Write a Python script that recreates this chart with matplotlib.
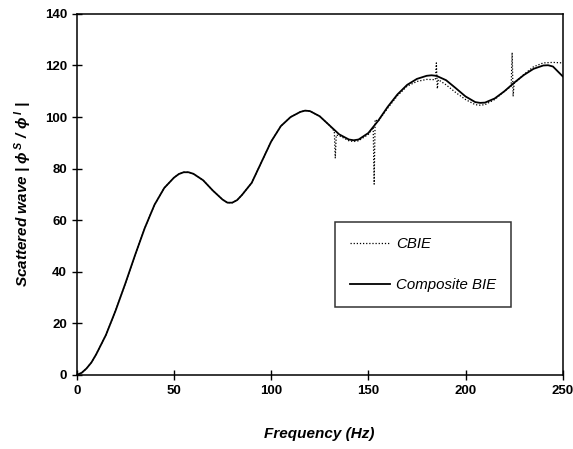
import matplotlib
matplotlib.use("Agg")
import matplotlib.pyplot as plt

plt.rcParams["font.family"] = ["Liberation Sans", "DejaVu Sans"]
plt.rcParams["mathtext.fontset"] = "custom"
plt.rcParams["mathtext.it"] = "Liberation Sans:italic:bold"
plt.rcParams["mathtext.rm"] = "Liberation Sans:bold"

# Composite BIE (smooth)
freq = [0, 2.5, 5, 7.5, 10, 15, 20, 25, 30, 35, 40, 45, 50, 52.5, 55, 57.5,
        60, 65, 70, 75, 77.5, 80, 82.5, 85, 90, 95, 100, 105, 110, 115, 117.5,
        120, 125, 130, 135, 140, 142.5, 145, 150, 155, 160, 165, 170, 175,
        180, 182.5, 185, 190, 195, 200, 205, 207.5, 210, 215, 220, 225, 230,
        235, 240, 242.5, 245, 250]
composite = [0, 0.8, 2.5, 4.8, 8, 15.5, 25, 35.5, 46.5, 57, 66, 72.5, 76.5,
             77.9, 78.6, 78.6, 78, 75.5, 71.5, 68, 66.8, 66.8, 67.8, 69.8,
             74.5, 82.5, 90.5, 96.5, 100, 102, 102.5, 102.3, 100.3, 96.8, 93.3,
             91.3, 91, 91.3, 93.8, 98.5, 104, 108.8, 112.5, 114.8, 116, 116.2,
             116, 114.3, 111.2, 108, 105.8, 105.5, 105.6, 107.2, 110, 113.3,
             116.3, 118.7, 120, 120.1, 119.6, 115.8]

# CBIE (with spurious spikes near irregular frequencies)
freq_cbie = [0, 2.5, 5, 7.5, 10, 15, 20, 25, 30, 35, 40, 45, 50, 52.5, 55,
             57.5, 60, 65, 70, 75, 77.5, 80, 82.5, 85, 90, 95, 100, 105, 110,
             115, 117.5, 120, 125, 130, 132.5, 133, 133.5, 135, 140, 142.5,
             145, 150, 152.5, 153, 153.5, 155, 160, 165, 170, 175, 180, 184.5,
             185, 185.5, 186, 190, 195, 200, 205, 207.5, 210, 215, 220, 223.5,
             224, 224.5, 225, 230, 235, 240, 245, 250]
cbie = [0, 0.8, 2.5, 4.8, 8, 15.5, 25, 35.5, 46.5, 57, 66, 72.5, 76.5, 77.9,
        78.6, 78.6, 78, 75.5, 71.5, 68, 66.8, 66.8, 67.8, 69.8, 74.5, 82.5,
        90.5, 96.5, 100, 102, 102.5, 102.3, 100.3, 96.8, 94.5, 84, 93, 92.8,
        90.8, 90.5, 90.8, 93.3, 96, 74, 99, 98.3, 103.5, 108.3, 112, 113.8,
        114.6, 114.5, 121, 111, 114.5, 112.5, 109.5, 106.8, 104.8, 104.6,
        104.8, 106.8, 110, 112, 125, 108, 113, 116.5, 119.5, 121, 121.2, 121]

fig = plt.figure(figsize=(5.73, 4.49), dpi=100)
ax = fig.add_axes([0.134, 0.165, 0.848, 0.804])

ax.plot(freq_cbie, cbie, color="black", lw=0.9, ls=(0, (1, 1.5)), label="CBIE")
ax.plot(freq, composite, color="black", lw=1.3, label="Composite BIE")

ax.set_xlim(0, 250)
ax.set_ylim(0, 140)
ax.set_xticks(range(0, 251, 50))
ax.set_yticks(range(0, 141, 20))
ax.tick_params(direction="inout", length=7, width=1, labelsize=9.5)
for lab in ax.get_xticklabels() + ax.get_yticklabels():
    lab.set_fontweight("bold")
for sp in ax.spines.values():
    sp.set_linewidth(1.1)

ax.set_xlabel("Frequency (Hz)", fontsize=11, style="italic",
              fontweight="bold", labelpad=22)
ax.set_ylabel(r"Scattered wave | $\phi^{\,S}$ / $\phi^{\,I}$ |", fontsize=11,
              style="italic", fontweight="bold", labelpad=8)

leg = ax.legend(loc="upper left", bbox_to_anchor=(0.531, 0.424),
                frameon=True, fancybox=False, edgecolor="black",
                prop={"style": "italic", "size": 10.8}, handlelength=2.7,
                borderpad=1.0, labelspacing=1.8, handletextpad=0.4,
                borderaxespad=0)
leg.get_frame().set_linewidth(1.1)

fig.savefig("out.png", dpi=100)
